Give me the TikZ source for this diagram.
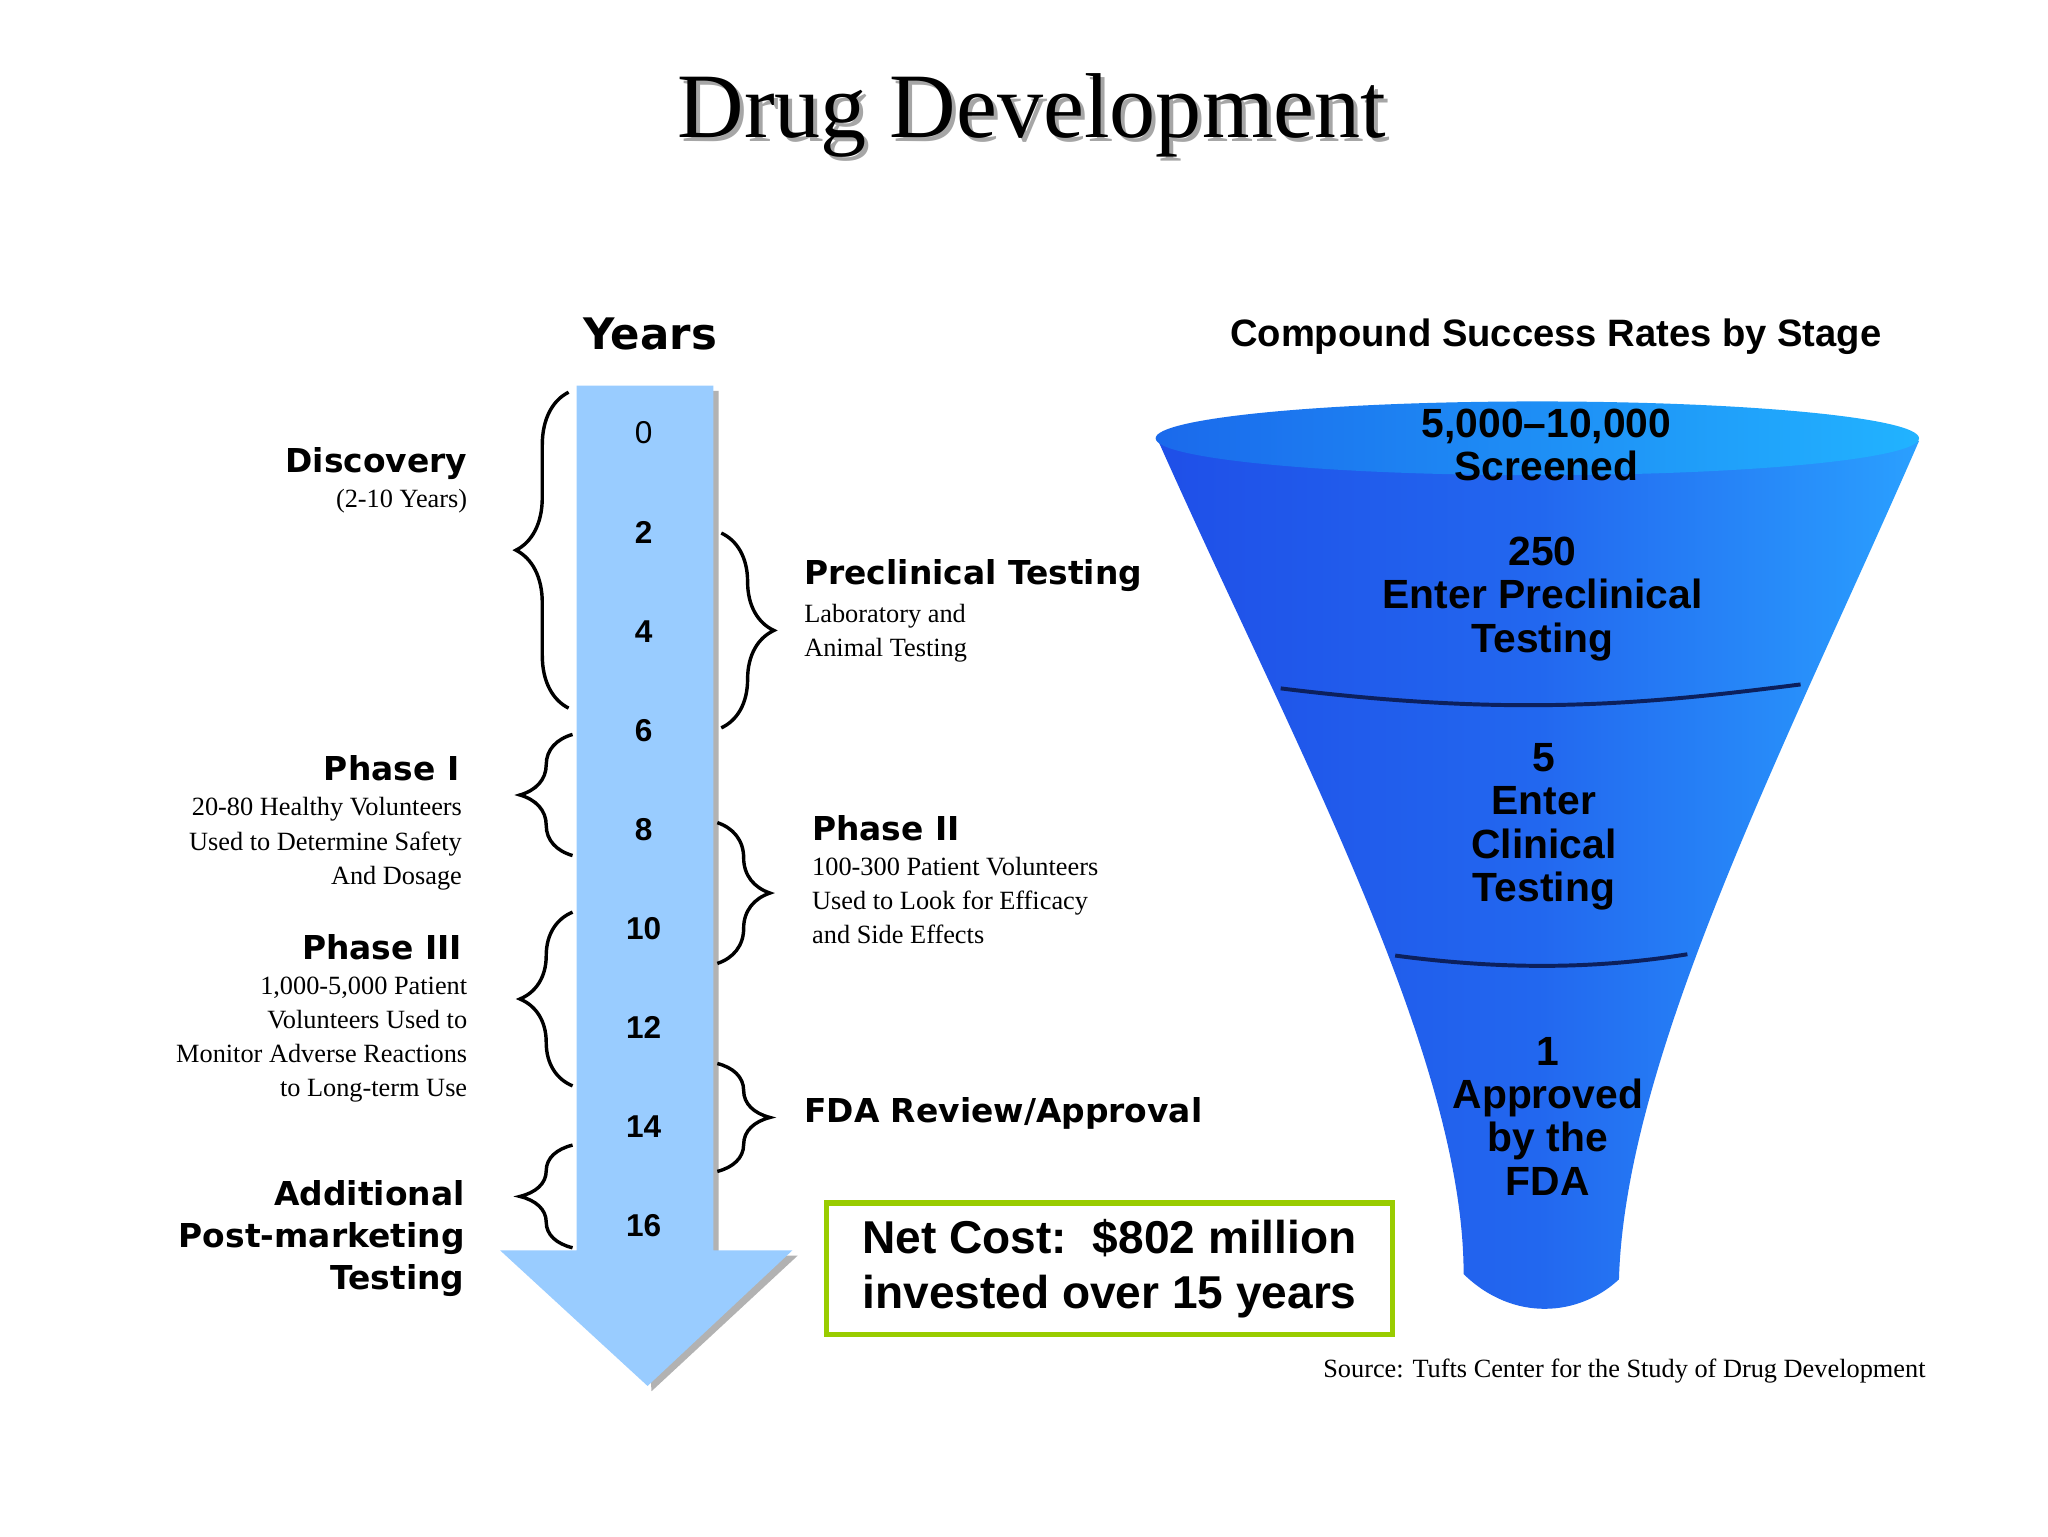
\documentclass[tikz,border=0pt]{standalone}
\usepackage{fontspec}
\setmainfont{Liberation Serif}
\newfontfamily\verd{DejaVu Sans}
\newfontfamily\ari{Liberation Sans}
\usetikzlibrary{decorations.pathreplacing,shadows}
\definecolor{arrowblue}{HTML}{99CCFF}
\definecolor{fdark}{HTML}{1F4FE8}
\definecolor{flight}{HTML}{2AA0FF}
\definecolor{boxgreen}{HTML}{99CC00}
\begin{document}
\begin{tikzpicture}[x=0.5pt,y=-0.5pt,
  brc/.style={decorate,decoration={brace,amplitude=20pt},line width=1.3pt},
  yr/.style={font=\ari\fontsize{12}{14}\selectfont\bfseries},
  lab/.style={font=\verd\fontsize{12.5}{15}\selectfont\bfseries},
  sub/.style={font=\fontsize{10}{13}\selectfont},
  ftx/.style={font=\ari\fontsize{15.5}{16.5}\selectfont\bfseries,align=center}]
\useasboundingbox (0,0) rectangle (1556,1167);
\fill[white] (0,0) rectangle (1556,1167);
% title
\node[font=\fontsize{35}{38}\selectfont,text=gray!70] at (787,91) {Drug Development};
\node (title) [font=\fontsize{35}{38}\selectfont] at (784,88) {Drug Development};
\node (years) [font=\verd\fontsize{16.5}{20}\selectfont\bfseries] at (494,254) {Years};
\node (csr) [font=\ari\fontsize{14.5}{18}\selectfont\bfseries] at (1182,256) {Compound Success Rates by Stage};
% arrow
\fill[gray!60] (443,297) -- (546,297) -- (546,954) -- (606,954) -- (495,1057) -- cycle;
\fill[arrowblue] (438,293) -- (542,293) -- (542,950) -- (602,950) -- (492,1053) -- (380,950) -- (438,950) -- cycle;
\foreach \v [count=\i from 0] in {0,2,4,6,8,10,12,14,16}
  \node (y\v) [yr] at (489,{329+75.3*\i}) {\ifnum\v=0 \mdseries\fi\v};
% left braces
\draw[brc] (432,538) -- (432,298);
\draw[brc] (435,650) -- (435,558);
\draw[brc] (435,825) -- (435,693);
\draw[brc] (435,948) -- (435,870);
% right braces
\draw[brc] (548,405) -- (548,553);
\draw[brc] (545,625) -- (545,732);
\draw[brc] (545,808) -- (545,890);
% left labels
\node (disc) [lab,anchor=east] at (362,352) {Discovery};
\node [sub,anchor=east] at (362,381) {(2-10 Years)};
\node (p1) [lab,anchor=east] at (356,584) {Phase I};
\node [sub,anchor=north east,align=right] at (358,599) {20-80 Healthy Volunteers\\Used to Determine Safety\\And Dosage};
\node (p3) [lab,anchor=east] at (358,720) {Phase III};
\node [sub,anchor=north east,align=right] at (362,735) {1,000-5,000 Patient\\Volunteers Used to\\Monitor Adverse Reactions\\to Long-term Use};
\node (add) [lab,anchor=north east,align=right,font=\verd\fontsize{12.5}{16}\selectfont\bfseries] at (360,890) {Additional\\Post-marketing\\Testing};
% right labels
\node (pre) [lab,anchor=west] at (604,437) {Preclinical Testing};
\node [sub,anchor=north west,align=left] at (604,452) {Laboratory and\\Animal Testing};
\node (p2) [lab,anchor=west] at (610,629) {Phase II};
\node [sub,anchor=north west,align=left] at (610,644) {100-300 Patient Volunteers\\Used to Look for Efficacy\\and Side Effects};
\node (fda) [lab,anchor=west] at (604,846) {FDA Review/Approval};
% funnel
\shade[left color=fdark,right color=flight,middle color=fdark!70!flight]
  (880,335) .. controls (980,560) and (1112,800) .. (1112,968)
  .. controls (1150,1005) and (1200,1000) .. (1230,972)
  .. controls (1235,800) and (1360,560) .. (1458,335) -- cycle;
\shade[left color=fdark!85!cyan,right color=flight!80!cyan] (1168,333) ellipse [x radius=290,y radius=28];
\draw[line width=1.5pt,fdark!40!black] (973,523) .. controls (1150,545) and (1250,535) .. (1368,520);
\draw[line width=1.5pt,fdark!40!black] (1060,726) .. controls (1150,738) and (1220,735) .. (1282,725);
\node (f1) [ftx] at (1175,338) {5,000–10,000\\Screened};
\node (f2) [ftx] at (1172,455) {250\\Enter Preclinical\\Testing};
\node (f3) [ftx] at (1173,628) {5\\Enter\\Clinical\\Testing};
\node (f4) [ftx] at (1176,848) {1\\Approved\\by the\\FDA};
% cost box
\node (cost) [draw=boxgreen,line width=2pt,minimum width=215pt,minimum height=50pt,align=center,
  font=\ari\fontsize{17.5}{21}\selectfont\bfseries] at (843,964) {Net Cost:\ \ \$802 million\\invested over 15 years};
\node (src) [sub,anchor=east] at (1470,1042) {Source: Tufts Center for the Study of Drug Development};
\end{tikzpicture}
\end{document}
